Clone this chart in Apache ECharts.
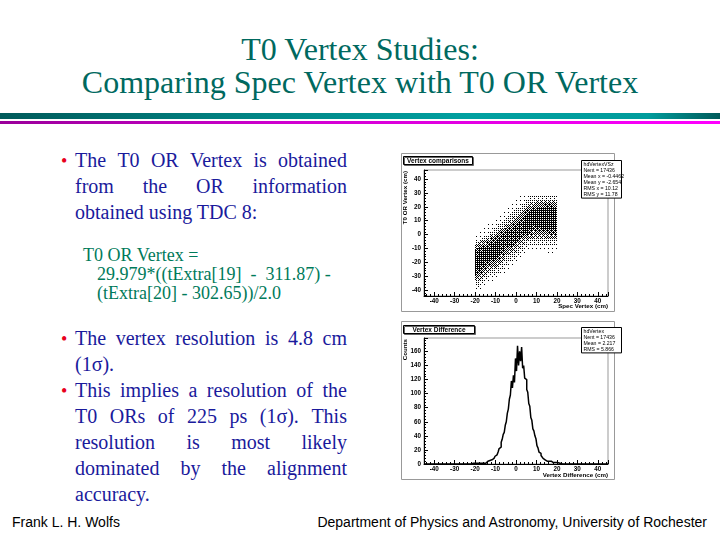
<!DOCTYPE html>
<html>
<head>
<meta charset="utf-8">
<title>T0 Vertex Studies</title>
<script src="https://cdn.jsdelivr.net/npm/echarts@6.0.0/dist/echarts.min.js"></script>
<style>
  html, body { margin: 0; padding: 0; }
  body { width: 720px; height: 540px; position: relative; overflow: hidden; background: #fff;
         font-family: "Liberation Serif", "Times New Roman", serif; }
  .ln { position: absolute; white-space: pre; line-height: 1; }
  .title { left: 0; width: 720px; text-align: center; font-size: 32px; color: #00695f; }
  .txt { left: 75px; width: 272px; font-size: 20px; color: #1a1a9c; }
  .just { display: flex; justify-content: space-between; }
  .dot { left: 61px; font-size: 18px; color: #e8001c; }
  .formula { font-size: 18px; color: #007a5a; }
  .foot { font-family: "Liberation Sans", Arial, sans-serif; font-size: 14px; color: #000; }
  .bar { position: absolute; left: 0; width: 720px; }
  #chart { position: absolute; left: 0; top: 0; width: 720px; height: 540px; }
</style>
</head>
<body>
<div class="ln title" style="top:33px">T0 Vertex Studies:</div>
<div class="ln title" style="top:66px">Comparing Spec Vertex with T0 OR Vertex</div>
<div class="bar" style="top:113px;height:6px;background:linear-gradient(90deg,#005a5a,#007f7f 30%,#00a0a0 65%,#009c9c 90%,#005a5a)"></div>
<div class="bar" style="top:121px;height:3px;background:linear-gradient(90deg,#9a009a,#d000d0 40%,#ff00ff)"></div>

<div class="ln dot" style="top:152px">•</div>
<div class="ln txt just" style="top:150px">The T0 OR Vertex is obtained</div>
<div class="ln txt just" style="top:176px">from the OR information</div>
<div class="ln txt" style="top:202px">obtained using TDC 8:</div>

<div class="ln formula" style="left:83px;top:246px">T0 OR Vertex =</div>
<div class="ln formula" style="left:97px;top:265px">29.979*((tExtra[19]  -  311.87) -</div>
<div class="ln formula" style="left:97px;top:284px">(tExtra[20] - 302.65))/2.0</div>

<div class="ln dot" style="top:330px">•</div>
<div class="ln txt just" style="top:328px">The vertex resolution is 4.8 cm</div>
<div class="ln txt" style="top:354px">(1σ).</div>
<div class="ln dot" style="top:382px">•</div>
<div class="ln txt just" style="top:380px">This implies a resolution of the</div>
<div class="ln txt just" style="top:406px">T0 ORs of 225 ps (1σ).  This</div>
<div class="ln txt just" style="top:432px">resolution is most likely</div>
<div class="ln txt just" style="top:458px">dominated by the alignment</div>
<div class="ln txt" style="top:484px">accuracy.</div>

<div class="ln foot" style="left:12px;top:515px">Frank L. H. Wolfs</div>
<div class="ln foot" style="right:13px;top:515px">Department of Physics and Astronomy, University of Rochester</div>

<div id="chart"></div>

<script>
// spread the words of justified lines over the full column width
document.querySelectorAll('.just').forEach(function (el) {
  const words = el.textContent.trim().split(/\s+/);
  el.textContent = '';
  words.forEach(function (w) {
    const s = document.createElement('span');
    s.textContent = w;
    el.appendChild(s);
  });
});

// ---- Vertex comparisons (2D, T0 OR vertex vs spec vertex) ----
// x bin centres (spec vertex, 2 cm bins)
const scatterXBins = [-19, -17, -15, -13, -11, -9, -7, -5, -3, -1, 1, 3, 5, 7, 9, 11, 13, 15, 17, 19];
// y bin centres (T0 OR vertex, 2.5 cm bins), listed top to bottom
const scatterYBins = [28.75, 26.25, 23.75, 21.25, 18.75, 16.25, 13.75, 11.25, 8.75, 6.25, 3.75, 1.25,
  -1.25, -3.75, -6.25, -8.75, -11.25, -13.75, -16.25, -18.75, -21.25, -23.75, -26.25, -28.75,
  -31.25, -33.75, -36.25, -38.75];
const scatterBinW = 2;
const scatterBinH = 2.5;
// dot density per cell (0 empty .. 9 black), one string per x bin, top to bottom
const scatterDensity = [
  '0000000000001135789999875321',
  '0000000000011246899998754211',
  '0000000000112357999987542110',
  '0000000001123578999975421100',
  '0000000011235789999764321100',
  '0000000112357899997643211000',
  '0000001123578888875432110000',
  '0000011235788887653221100000',
  '0000112346788887543211000000',
  '0001123467888875432110000000',
  '0011234678888754321100000000',
  '0112356788887543211000000000',
  '1123578999986432110000000000',
  '1234689999875321100000000000',
  '1235799998754321100000000000',
  '1246899999764321100000000000',
  '1246899999864321100000000000',
  '1247999999865321110000000000',
  '1247999999875321110000000000',
  '1246899999875321100000000000'
];
const scatterStats = ['hdVertexVSz', 'Nent = 17436', 'Mean x = -0.4462', 'Mean y = -2.654', 'RMS x = 10.12', 'RMS y = 11.78'];

// ---- Vertex Difference (1D histogram) ----
const diffStart = -22;   // centre of first listed bin
const diffStep = 0.5;
const diffCounts = [
  0, 0, 1, 0, 0, 1, 0, 1, 1, 0,
  1, 2, 1, 2, 1, 3, 2, 4, 3, 5,
  4, 6, 8, 7, 11, 13, 15, 17, 22, 24,
  31, 35, 42, 45, 55, 60, 72, 78, 92, 98,
  118, 108, 126, 116, 150, 132, 168, 140, 160, 146,
  166, 136, 140, 122, 120, 106, 102, 86, 82, 66,
  62, 50, 47, 40, 36, 26, 23, 17, 15, 12,
  11, 8, 9, 6, 7, 4, 5, 4, 3, 4,
  2, 3, 2, 2, 1, 2, 1, 1, 2, 0,
  1, 1, 0, 1, 0, 0, 0
];
const histRange = [-45, 45];
const diffStats = ['hdVertex', 'Nent = 17436', 'Mean = 2.217', 'RMS = 5.866'];

const scatterCells = [];
scatterDensity.forEach(function (col, ci) {
  for (let ri = 0; ri < col.length; ri++) {
    const d = Number(col[ri]);
    if (d > 0) scatterCells.push([scatterXBins[ci], scatterYBins[ri], d]);
  }
});

const histData = [[histRange[0], 0]];
diffCounts.forEach(function (c, i) { histData.push([diffStart + i * diffStep, c]); });
histData.push([histRange[1], 0]);

// ordered dither so a cell's density shows as black dots like the ROOT scatter plot
const bayer = [[0, 8, 2, 10], [12, 4, 14, 6], [3, 11, 1, 9], [15, 7, 13, 5]];

const rootFont = 'Liberation Sans, Arial, sans-serif';
const labelStyle = { fontFamily: rootFont, fontSize: 6.3, fontWeight: 'bold', color: '#000' };

function xAxisFor(gi) {
  return {
    type: 'value', gridIndex: gi, min: histRange[0], max: histRange[1], splitNumber: 9,
    axisLine: { show: true, onZero: false, lineStyle: { color: '#000', width: 1 } },
    axisTick: { show: true, inside: true, length: 4, lineStyle: { color: '#000' } },
    minorTick: { show: true, splitNumber: 5, length: 2, lineStyle: { color: '#000' } },
    splitLine: { show: false },
    axisLabel: Object.assign({ margin: 2, formatter: function (v) { return v % 10 === 0 ? String(v) : ''; } }, labelStyle)
  };
}

function statBox(x, y, w, lines) {
  const lh = 6.1;
  return {
    type: 'group', z: 100,
    children: [
      { type: 'rect', shape: { x: x, y: y, width: w, height: lines.length * lh + 1 },
        style: { fill: '#fff', stroke: '#000', lineWidth: 1 } },
      { type: 'text', x: x + 2, y: y + 1,
        style: { text: lines.join('\n'), fontFamily: rootFont, fontSize: 5.2, lineHeight: lh,
                 fill: '#000', verticalAlign: 'top' } }
    ]
  };
}

function titleBox(x, y, w, text) {
  return {
    type: 'group', z: 100,
    children: [
      { type: 'rect', shape: { x: x, y: y, width: w, height: 8 },
        style: { fill: '#fff', stroke: '#000', lineWidth: 1, shadowColor: '#666', shadowOffsetX: 1, shadowOffsetY: 1 } },
      { type: 'text', x: x + w / 2, y: y + 4.5,
        style: { text: text, fontFamily: rootFont, fontSize: 6.5, fontWeight: 'bold', fill: '#000',
                 align: 'center', verticalAlign: 'middle' } }
    ]
  };
}

function axisTitle(x, y, text, vertical) {
  return {
    type: 'text', z: 100, x: x, y: y, rotation: vertical ? Math.PI / 2 : 0,
    style: { text: text, fontFamily: rootFont, fontSize: 6.2, fontWeight: 'bold', fill: '#000',
             align: 'right', verticalAlign: 'middle' }
  };
}

const chart = echarts.init(document.getElementById('chart'));
chart.setOption({
  animation: false,
  grid: [
    { left: 424, top: 170, width: 184, height: 126, show: true, borderColor: '#999', borderWidth: 1, backgroundColor: 'transparent' },
    { left: 424, top: 338, width: 184, height: 126, show: true, borderColor: '#999', borderWidth: 1, backgroundColor: 'transparent' }
  ],
  xAxis: [xAxisFor(0), xAxisFor(1)],
  yAxis: [
    {
      type: 'value', gridIndex: 0, min: -44.3, max: 46.5, splitNumber: 9,
      axisLine: { show: true, onZero: false, lineStyle: { color: '#000', width: 1 } },
      axisTick: { show: true, inside: true, length: 4, lineStyle: { color: '#000' } },
      minorTick: { show: true, splitNumber: 5, length: 2, lineStyle: { color: '#000' } },
      splitLine: { show: false },
      axisLabel: Object.assign({ margin: 3, formatter: function (v) { return v % 10 === 0 ? String(v) : ''; } }, labelStyle)
    },
    {
      type: 'value', gridIndex: 1, min: 0, max: 179, interval: 20,
      axisLine: { show: true, onZero: false, lineStyle: { color: '#000', width: 1 } },
      axisTick: { show: true, inside: true, length: 4, lineStyle: { color: '#000' } },
      minorTick: { show: true, splitNumber: 5, length: 2, lineStyle: { color: '#000' } },
      splitLine: { show: false },
      axisLabel: Object.assign({ margin: 3, formatter: function (v) { return v % 20 === 0 ? String(v) : ''; } }, labelStyle)
    }
  ],
  series: [
    {
      type: 'custom', name: 'hdVertexVSz', xAxisIndex: 0, yAxisIndex: 0,
      encode: { x: 0, y: 1 },
      data: scatterCells,
      renderItem: function (params, api) {
        const x = api.value(0), y = api.value(1), d = api.value(2);
        const p0 = api.coord([x - scatterBinW / 2, y + scatterBinH / 2]);
        const p1 = api.coord([x + scatterBinW / 2, y - scatterBinH / 2]);
        const x0 = Math.round(p0[0]), x1 = Math.round(p1[0]);
        const y0 = Math.round(p0[1]), y1 = Math.round(p1[1]);
        const level = d / 9 * 0.78 * 16;
        const dots = [];
        for (let py = y0; py < y1; py++) {
          for (let px = x0; px < x1; px++) {
            if (bayer[py & 3][px & 3] + 0.5 < level) {
              dots.push({ type: 'rect', shape: { x: px, y: py, width: 1, height: 1 }, style: { fill: '#000' } });
            }
          }
        }
        return { type: 'group', children: dots };
      }
    },
    {
      type: 'line', name: 'hdVertex', xAxisIndex: 1, yAxisIndex: 1,
      data: histData, step: 'middle', symbol: 'none',
      lineStyle: { color: '#000', width: 1.5 }
    }
  ],
  graphic: [
    { type: 'rect', z: 0, shape: { x: 401.5, y: 153.5, width: 213, height: 158 }, style: { fill: 'none', stroke: '#999', lineWidth: 1 } },
    { type: 'rect', z: 0, shape: { x: 401.5, y: 321.5, width: 213, height: 158 }, style: { fill: 'none', stroke: '#999', lineWidth: 1 } },
    titleBox(403.5, 156.5, 69, 'Vertex comparisons'),
    titleBox(403.5, 325.5, 71, 'Vertex Difference'),
    statBox(581.5, 160.5, 40, scatterStats),
    statBox(581.5, 327.5, 40, diffStats),
    axisTitle(405, 171, 'T0 OR Vertex (cm)', true),
    axisTitle(608, 306, 'Spec Vertex (cm)', false),
    axisTitle(405, 339, 'Counts', true),
    axisTitle(608, 475, 'Vertex Difference (cm)', false)
  ]
});
</script>
</body>
</html>
